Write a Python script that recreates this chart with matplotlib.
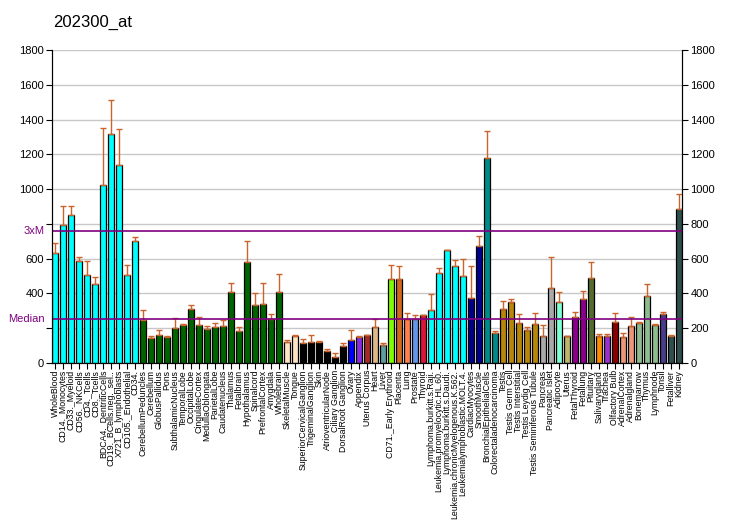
import matplotlib
matplotlib.use('Agg')
import matplotlib.pyplot as plt
import numpy as np

plt.rcParams['font.family'] = ['Liberation Sans', 'DejaVu Sans']

tissues = ['WholeBlood', 'CD14._Monocytes', 'CD33._Myeloid', 'CD56._NKCells', 'CD4._Tcells',
           'CD8._Tcells', 'BDCA4._DentriticCells', 'CD19._BCells.neg._sel..', 'X721_B_lymphoblasts',
           'CD105._Endothelial', 'CD34.', 'CerebellumPeduncles', 'Cerebellum', 'GlobusPallidus',
           'Pons', 'SubthalamicNucleus', 'TemporalLobe', 'OccipitalLobe', 'CingulateCortex',
           'MedullaOblongata', 'ParietalLobe', 'Caudatenucleus', 'Thalamus', 'Fetalbrain',
           'Hypothalamus', 'Spinalcord', 'PrefrontalCortex', 'Amygdala', 'Wholebrain',
           'SkeletalMuscle', 'Tongue', 'SuperiorCervicalGanglion', 'TrigeminalGanglion', 'Skin',
           'AtrioventricularNode', 'Ciliary Ganglion', 'DorsalRoot Ganglion', 'Ovary', 'Appendix',
           'Uterus Corpus', 'Heart', 'Liver', 'CD71._Early Erythroid', 'Placenta', 'Lung',
           'Prostate', 'Thyroid', 'Lymphoma.burkitt.s.Raji.', 'Leukemia.promyelocytic.HL.60.',
           'Lymphoma.burkitt.s.Daudi.', 'Leukemia.chronicMyelogenous.K.562.',
           'Leukemialymphoblastic.MOLT.4.', 'CardiacMyocytes', 'SmoothMuscle',
           'BronchialEpithelialCells', 'Colorectaladenocarcinoma', 'Testis', 'Testis Germ Cell',
           'Testis Interstitial', 'Testis Leydig Cell', 'Testis Seminiferous Tubule', 'Pancreas',
           'Pancreatic Islet', 'Adipocyte', 'Uterus', 'FetalThyroid', 'Fetallung', 'Pituitary',
           'Salivarygland', 'Trachea', 'Olfactory Bulb', 'AdrenalCortex', 'Adrenalgland',
           'Bonemarrow', 'Thymus', 'Lymphnode', 'Tonsil', 'Fetalliver', 'Kidney']

values = [633, 795, 852, 587, 507, 455, 1025, 1319, 1140, 507, 703,
          249, 144, 161, 151, 202, 219, 311, 219, 196, 207, 213, 409, 184, 582, 334, 340, 253, 409,
          121, 155, 115, 121, 121, 69, 35, 98, 132, 150, 161, 207, 104, 484, 484, 253, 253, 276,
          305, 518, 651, 559, 501, 374, 674, 1181, 173, 311, 351, 230, 190, 224, 155, 432, 351,
          155, 265, 368, 490, 155, 155, 236, 150, 213, 230, 386, 219, 282, 155, 887]

err_top = [691, 904, 904, 610, 587, 495, 1354, 1515, 1348, 564, 726,
           305, 155, 190, 155, 259, 224, 334, 265, 213, 230, 248, 461, 207, 703, 403, 461, 282, 513,
           132, 161, 138, 161, 127, 81, 58, 115, 190, 155, 161, 253, 115, 564, 559, 288, 276, 276,
           397, 547, 651, 593, 599, 559, 731, 1336, 184, 357, 368, 282, 207, 288, 219, 610, 409,
           155, 294, 415, 582, 167, 167, 288, 173, 265, 236, 455, 224, 294, 161, 971]

colors = (['#00FFFF'] * 11 + ['#006400'] * 18 + ['#FFE4C4'] * 2 + ['#000000'] * 6 +
          ['#0000FF', '#8A2BE2', '#A52A2A', '#DEB887', '#5F9EA0', '#7FFF00', '#D2691E',
           '#FF7F50', '#6495ED', '#DC143C'] + ['#00FFFF'] * 5 + ['#00008B'] * 2 +
          ['#008B8B'] * 2 + ['#B8860B'] * 5 + ['#A9A9A9'] * 2 +
          ['#7FFFD4', '#BDB76B', '#8B008B', '#8B008B', '#556B2F', '#FF8C00', '#9932CC',
           '#8B0000', '#E9967A', '#E9967A', '#8FBC8F', '#8FBC8F', '#8FBC8F', '#483D8B',
           '#2F4F4F', '#2F4F4F'])

median_val = 253
three_m = 760

fig = plt.figure(figsize=(7.32, 5.30), dpi=100)
ax = fig.add_axes([52 / 732, 1 - 363 / 530, 630 / 732, 313 / 530])

x = np.arange(len(values))
vals = np.array(values)
up = np.array(err_top) - vals

for yv in range(200, 1801, 200):
    ax.axhline(yv, color='#C8C8C8', lw=1, zorder=0)

ax.bar(x, vals, width=0.78, color=colors, edgecolor='black', linewidth=0.9, zorder=2)
ax.errorbar(x, vals, yerr=[np.zeros_like(up), up], fmt='none', ecolor='#C8642C',
            elinewidth=1, capsize=2.2, capthick=1, zorder=3)

ax.axhline(median_val, color='#800080', lw=1.2, zorder=4)
ax.axhline(three_m, color='#800080', lw=1.2, zorder=4)

ax.set_xlim(-0.42, len(values) - 0.58)
ax.set_ylim(0, 1800)
ax.spines['top'].set_visible(False)

# left axis: 200 and 800 keep their ticks but give way to Median / 3xM
left_ticks = list(range(0, 1801, 200))
ax.set_yticks(left_ticks)
ax.set_yticklabels(['' if t in (200, 800) else str(t) for t in left_ticks], fontsize=8)
ax.tick_params(axis='y', length=4, pad=2)
ax.text(-0.012, median_val, 'Median', color='#800080', fontsize=8, ha='right', va='center',
        transform=ax.get_yaxis_transform())
ax.text(-0.012, three_m, '3xM', color='#800080', fontsize=8, ha='right', va='center',
        transform=ax.get_yaxis_transform())

ax2 = ax.twinx()
ax2.set_ylim(0, 1800)
ax2.set_yticks(range(0, 1801, 200))
ax2.set_yticklabels([str(t) for t in range(0, 1801, 200)], fontsize=8)
ax2.tick_params(axis='y', length=4, pad=2)
ax2.spines['top'].set_visible(False)

ax.set_xticks(x)
ax.set_xticklabels(tissues, rotation=90, fontsize=6.3, va='top', ha='center')
ax.tick_params(axis='x', length=4, pad=1)

fig.text(53 / 732, 1 - 27 / 530, '202300_at', fontsize=12, ha='left', va='baseline')

fig.savefig('out.png', dpi=100)
